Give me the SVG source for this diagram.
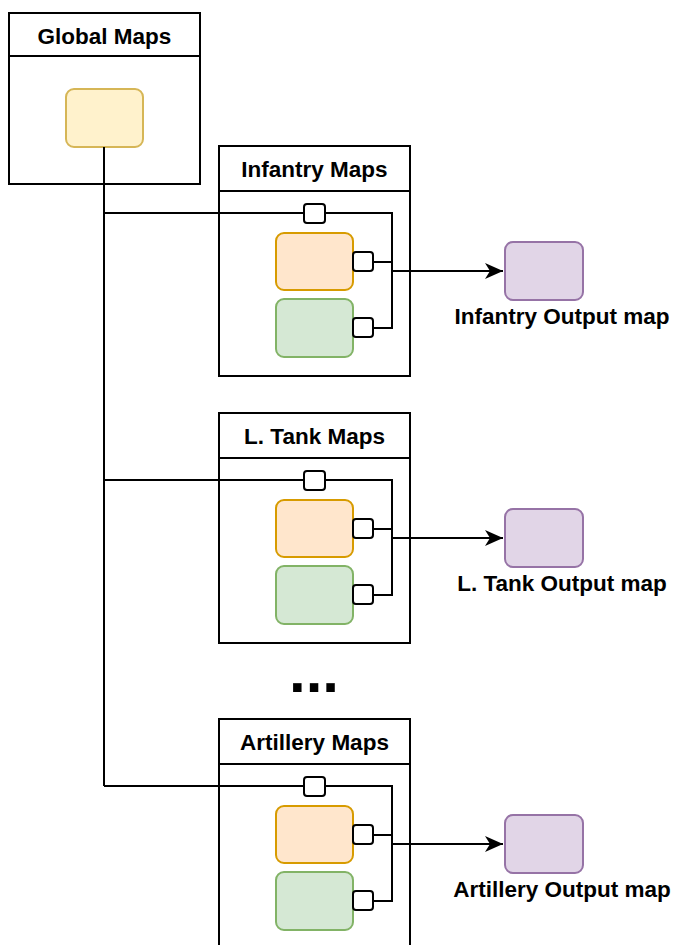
<svg xmlns="http://www.w3.org/2000/svg" width="673" height="945" viewBox="0 0 673 945">
  <style>
    .frame { fill: #ffffff; stroke: #000000; stroke-width: 2; }
    .title { font-family: "Liberation Sans", Arial, sans-serif; font-weight: bold; font-size: 22.5px; fill: #000000; text-anchor: middle; }
    .label { font-family: "Liberation Sans", Arial, sans-serif; font-weight: bold; font-size: 22.5px; fill: #000000; text-anchor: middle; }
    .yellow { fill: #fff2cc; stroke: #d6b656; stroke-width: 2; }
    .orange { fill: #ffe6cc; stroke: #d79b00; stroke-width: 2; }
    .green { fill: #d5e8d4; stroke: #82b366; stroke-width: 2; }
    .purple { fill: #e1d5e7; stroke: #9673a6; stroke-width: 2; }
    .port { fill: #ffffff; stroke: #000000; stroke-width: 2; }
    .wire { fill: none; stroke: #000000; stroke-width: 2; }
  </style>
  <defs>
    <marker id="arrow" markerWidth="20" markerHeight="16" refX="18" refY="8" orient="auto" markerUnits="userSpaceOnUse">
      <path d="M0,0 L18,8 L0,16 L5,8 Z" fill="#000000"/>
    </marker>
    <!-- one per-unit block, placed with a vertical offset -->
    <g id="unitBody">
      <rect class="frame" x="219" y="146" width="191" height="230"/>
      <line x1="219" y1="191" x2="410" y2="191" stroke="#000" stroke-width="2"/>
      <rect class="orange" x="276" y="233" width="77" height="57" rx="8"/>
      <rect class="green" x="276" y="299" width="77" height="58" rx="8"/>
      <rect class="purple" x="505" y="242" width="78" height="58" rx="8"/>
    </g>
    <g id="unitWires">
      <path class="wire" d="M325,213 H392 V328 H373"/>
      <path class="wire" d="M373,262 H392"/>
      <path class="wire" d="M392,271 H503" marker-end="url(#arrow)"/>
      <rect class="port" x="304" y="204" width="21" height="19" rx="3"/>
      <rect class="port" x="353" y="252" width="20" height="19" rx="3"/>
      <rect class="port" x="353" y="318" width="20" height="19" rx="3"/>
    </g>
  </defs>

  <!-- Global maps -->
  <g id="global-maps">
    <rect class="frame" x="9" y="13" width="191" height="171"/>
    <line x1="9" y1="56" x2="200" y2="56" stroke="#000" stroke-width="2"/>
    <text class="title" x="104.5" y="44">Global Maps</text>
    <rect class="yellow" x="66" y="89" width="77" height="58" rx="8"/>
  </g>

  <!-- Per-unit map groups -->
  <g id="infantry-maps">
    <use href="#unitBody"/>
    <text class="title" x="314.5" y="177">Infantry Maps</text>
    <text class="label" x="562" y="324">Infantry Output map</text>
  </g>
  <g id="ltank-maps" transform="translate(0,267)">
    <use href="#unitBody"/>
    <text class="title" x="314.5" y="177">L. Tank Maps</text>
    <text class="label" x="562" y="324">L. Tank Output map</text>
  </g>
  <g id="artillery-maps" transform="translate(0,573)">
    <use href="#unitBody"/>
    <text class="title" x="314.5" y="177">Artillery Maps</text>
    <text class="label" x="562" y="324">Artillery Output map</text>
  </g>

  <text id="ellipsis" x="289" y="692" font-family="'Liberation Sans', Arial, sans-serif" font-weight="bold" font-size="60" fill="#000">...</text>

  <!-- Connectors -->
  <g id="connectors">
    <path class="wire" d="M104,147 V786"/>
    <path class="wire" d="M104,213 H304"/>
    <path class="wire" d="M104,480 H304"/>
    <path class="wire" d="M104,786 H304"/>
    <use href="#unitWires"/>
    <use href="#unitWires" transform="translate(0,267)"/>
    <use href="#unitWires" transform="translate(0,573)"/>
  </g>
</svg>
